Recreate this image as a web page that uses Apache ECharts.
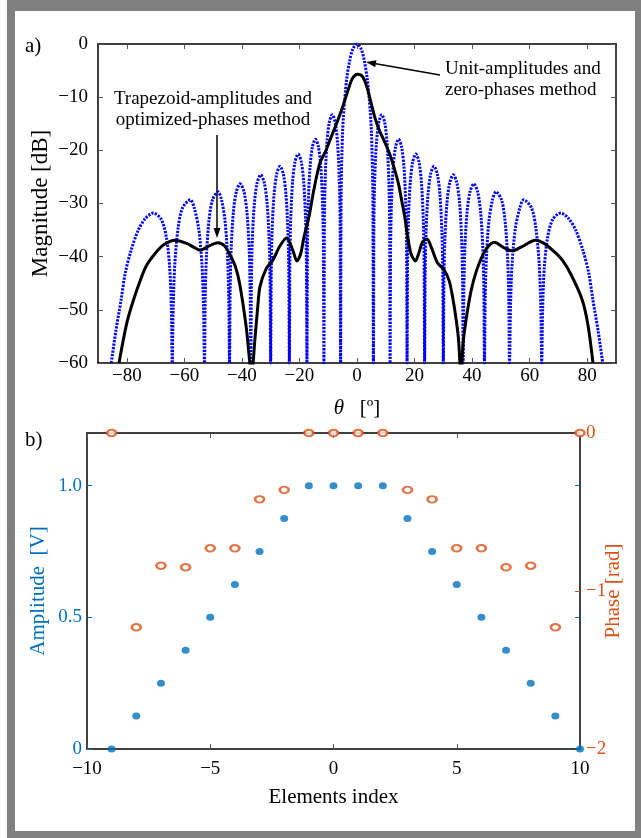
<!DOCTYPE html>
<html><head><meta charset="utf-8">
<script src="https://cdn.jsdelivr.net/npm/echarts@6/dist/echarts.min.js"></script>
<style>html,body{margin:0;padding:0;background:#fff}#c{width:641px;height:838px}</style>
</head><body><div id="c"></div>
<script>
// ---------- data ----------
const thetaTicks = [-80, -60, -40, -20, 0, 20, 40, 60, 80];
const dbTicks = [-60, -50, -40, -30, -20, -10, 0];
// Unit-amplitudes and zero-phases method [theta (deg), magnitude (dB)]
const uniformPattern = [
  [-85.4,-60],[-83.8,-54],[-82,-48.2],[-80.5,-43],[-78.5,-38.8],[-76,-35],[-73.5,-32.8],[-70.8,-31.8],[-68,-33],[-66.2,-36.5],[-65.1,-42],[-64.5,-50],[-64.2,-60],
  [-63.86,-49.3],[-63.3,-41.3],[-62.18,-34.7],[-60.62,-30.8],[-57.9,-29.3],[-56.58,-30.8],[-55.02,-34.7],[-53.9,-41.3],[-53.34,-49.3],[-53.0,-60],
  [-52.74,-47.8],[-52.3,-39.8],[-51.43,-33.2],[-50.22,-29.3],[-48.3,-27.8],[-47.08,-29.3],[-45.87,-33.2],[-45.0,-39.8],[-44.56,-47.8],[-44.3,-60],
  [-44.08,-46.3],[-43.71,-38.3],[-42.97,-31.7],[-41.93,-27.8],[-40.6,-26.3],[-39.27,-27.8],[-38.23,-31.7],[-37.49,-38.3],[-37.12,-46.3],[-36.9,-60],
  [-36.69,-44.6],[-36.35,-36.6],[-35.66,-30],[-34.69,-26.1],[-33.45,-24.6],[-32.21,-26.1],[-31.24,-30],[-30.55,-36.6],[-30.21,-44.6],[-30,-60],
  [-29.8,-43],[-29.48,-35],[-28.83,-28.4],[-27.92,-24.5],[-26.75,-23],[-25.58,-24.5],[-24.67,-28.4],[-24.02,-35],[-23.7,-43],[-23.5,-60],
  [-23.32,-40.7],[-23.01,-32.7],[-22.4,-26.1],[-21.55,-22.2],[-20.45,-20.7],[-19.35,-22.2],[-18.5,-26.1],[-17.89,-32.7],[-17.58,-40.7],[-17.4,-60],
  [-17.22,-37.9],[-16.93,-30],[-16.34,-23.3],[-15.51,-19.4],[-14.45,-17.9],[-13.39,-19.4],[-12.56,-23.3],[-11.97,-30],[-11.68,-37.9],[-11.5,-60],
  [-11.33,-33.3],[-11.04,-25.4],[-10.46,-18.7],[-9.64,-14.8],[-8.6,-13.3],[-7.56,-14.8],[-6.74,-18.7],[-6.16,-25.4],[-5.87,-33.3],[-5.7,-60],
  [-5.5,-28],[-5.0,-16.5],[-4.3,-10.6],[-3.5,-6.3],[-2.6,-3.3],[-1.5,-1.0],[0,0],[1.5,-1.0],[2.6,-3.3],[3.5,-6.3],[4.3,-10.6],[5.0,-16.5],[5.5,-28],
  [5.7,-60],[5.87,-33.3],[6.16,-25.4],[6.74,-18.7],[7.56,-14.8],[8.6,-13.3],[9.64,-14.8],[10.46,-18.7],[11.04,-25.4],[11.33,-33.3],
  [11.5,-60],[11.68,-37.9],[11.97,-30],[12.56,-23.3],[13.39,-19.4],[14.45,-17.9],[15.51,-19.4],[16.34,-23.3],[16.93,-30],[17.22,-37.9],
  [17.4,-60],[17.58,-40.7],[17.89,-32.7],[18.5,-26.1],[19.35,-22.2],[20.45,-20.7],[21.55,-22.2],[22.4,-26.1],[23.01,-32.7],[23.32,-40.7],
  [23.5,-60],[23.7,-43],[24.02,-35],[24.67,-28.4],[25.58,-24.5],[26.75,-23],[27.92,-24.5],[28.83,-28.4],[29.48,-35],[29.8,-43],
  [30,-60],[30.21,-44.6],[30.55,-36.6],[31.24,-30],[32.21,-26.1],[33.45,-24.6],[34.69,-26.1],[35.66,-30],[36.35,-36.6],[36.69,-44.6],
  [36.9,-60],[37.12,-46.3],[37.49,-38.3],[38.23,-31.7],[39.27,-27.8],[40.6,-26.3],[41.93,-27.8],[42.97,-31.7],[43.71,-38.3],[44.08,-46.3],
  [44.3,-60],[44.56,-47.8],[45.0,-39.8],[45.87,-33.2],[47.08,-29.3],[48.3,-27.8],[50.22,-29.3],[51.43,-33.2],[52.3,-39.8],[52.74,-47.8],
  [53.0,-60],[53.34,-49.3],[53.9,-41.3],[55.02,-34.7],[56.58,-30.8],[57.9,-29.3],[60.62,-30.8],[62.18,-34.7],[63.3,-41.3],[63.86,-49.3],
  [64.2,-60],[64.5,-50],[65.1,-42],[66.2,-36.5],[68,-33],[70.8,-31.8],[73.5,-32.8],[76,-35],[78.5,-38.8],[80.5,-43],[82,-48.2],[83.8,-54],[85.4,-60]
];
// Trapezoid-amplitudes and optimized-phases method [theta (deg), magnitude (dB)]
const trapezoidPattern = [
  [-82.7,-60],[-80,-52.5],[-77.7,-48.2],[-75,-44],[-73.1,-41.6],[-70,-39.3],[-67.3,-37.8],[-63.3,-36.9],[-59.2,-37.5],[-56.5,-38.3],[-54.4,-38.8],
  [-51.5,-38.0],[-48.3,-37.4],[-46,-38],[-44.2,-39.6],[-42.3,-41.8],[-40.8,-45.0],[-38.5,-53.2],[-36.6,-62],[-35.5,-55.7],[-34.5,-49.5],[-33.7,-45.6],
  [-31.5,-42.2],[-29.2,-40.6],[-26.9,-38.1],[-24.5,-36.5],[-22.3,-38.8],[-20.9,-40.8],[-19.6,-39.5],[-18.5,-36.5],[-17.6,-34.5],[-16.5,-32],
  [-15.3,-28.3],[-13.0,-22.6],[-10.7,-19.9],[-8.9,-17.4],[-7,-14.8],[-4.9,-11.7],[-3,-8.5],[-1.5,-6.4],[0.3,-5.7],
  [2,-6.2],[3.5,-8.2],[4.9,-11.1],[6.3,-14],[7.8,-16.3],[9.5,-18.3],[11.3,-20.6],[13,-23.5],[14.5,-26.5],[15.3,-28.8],[16.5,-32.2],[17.6,-36.2],
  [18.8,-39.5],[20.3,-40.8],[21.5,-39.3],[22.8,-37.2],[24.3,-36.7],[26,-38.5],[28,-41.2],[30.3,-42.5],[32,-44.5],[33.2,-47.5],[34.5,-52],
  [35.3,-55.7],[36.1,-62],[37,-55.5],[39,-48.2],[40.5,-44.5],[42.5,-41.2],[45,-38.5],[47.7,-37.3],[51,-38.3],[54,-38.9],[57,-38.2],[62.1,-36.9],
  [65,-37.5],[68,-38.8],[71.3,-40.6],[74.5,-43.5],[78.3,-48.2],[80.3,-53],[82,-60]
];
const elementIndex = [-9,-8,-7,-6,-5,-4,-3,-2,-1,0,1,2,3,4,5,6,7,8,9,10];
const amplitudes   = [0,0.125,0.25,0.375,0.5,0.625,0.75,0.875,1,1,1,1,0.875,0.75,0.625,0.5,0.375,0.25,0.125,0];
const phases       = [0,-1.23,-0.84,-0.85,-0.73,-0.73,-0.42,-0.36,0,0,0,0,-0.36,-0.42,-0.73,-0.73,-0.85,-0.84,-1.23,0];
const indexTicks = [-10,-5,0,5,10];

// ---------- chart ----------
const serif = '"Liberation Serif","Times New Roman",serif';
const BLUE = '#0072BD', ORANGE = '#D95319';
const minus = v => (v < 0 ? '\u2212' + Math.abs(v) : String(v));
const chart = echarts.init(document.getElementById('c'), null, {renderer: 'canvas', width: 641, height: 838});

const frameAxis = (extra) => Object.assign({
  axisLine: {show: true, onZero: false, lineStyle: {color: '#000', width: 1.5}},
  axisTick: {show: true, inside: true, length: 5, lineStyle: {color: '#555', width: 1}},
  splitLine: {show: false},
  axisLabel: {show: false},
  nameMoveOverlap: false
}, extra);

const labelStyle = (color, margin) => ({show: true, color: color, fontFamily: serif, fontSize: 19, margin: margin});

function arrow(x1, y1, x2, y2) {
  const dx = x2 - x1, dy = y2 - y1, L = Math.hypot(dx, dy), ux = dx / L, uy = dy / L;
  const hl = 10, hw = 3.5;
  const bx = x2 - ux * hl, by = y2 - uy * hl;
  return [
    {type: 'line', shape: {x1: x1, y1: y1, x2: bx, y2: by}, style: {stroke: '#000', lineWidth: 1.5}},
    {type: 'polygon', shape: {points: [[x2, y2], [bx - uy * hw, by + ux * hw], [bx + uy * hw, by - ux * hw]]}, style: {fill: '#000'}}
  ];
}

const option = {
  backgroundColor: '#808080',
  animation: false,
  grid: [
    {left: 98, top: 44, width: 518, height: 319, outerBoundsMode: 'none', containLabel: false},
    {left: 87, top: 433, width: 493, height: 316, outerBoundsMode: 'none', containLabel: false}
  ],
  xAxis: [
    frameAxis({gridIndex: 0, type: 'value', min: -90, max: 90, position: 'bottom',
      axisTick: {show: true, inside: true, length: 5, customValues: thetaTicks, lineStyle: {color: '#555'}},
      axisLabel: Object.assign(labelStyle('#000', 4), {customValues: thetaTicks, formatter: minus}),
      name: '{i|\u03b8}   [\u00ba]', nameLocation: 'middle', nameGap: 35,
      nameTextStyle: {fontFamily: serif, fontSize: 21, color: '#000', rich: {i: {fontFamily: serif, fontStyle: 'italic', fontSize: 21}}}}),
    frameAxis({gridIndex: 0, type: 'value', min: -90, max: 90, position: 'top',
      axisTick: {show: true, inside: true, length: 5, customValues: thetaTicks, lineStyle: {color: '#555'}}}),
    frameAxis({gridIndex: 1, type: 'value', min: -10, max: 10, interval: 5, position: 'bottom',
      axisLabel: Object.assign(labelStyle('#000', 11), {formatter: minus}),
      name: 'Elements index', nameLocation: 'middle', nameGap: 38,
      nameTextStyle: {fontFamily: serif, fontSize: 21, color: '#000'}}),
    frameAxis({gridIndex: 1, type: 'value', min: -10, max: 10, interval: 5, position: 'top'})
  ],
  yAxis: [
    frameAxis({gridIndex: 0, type: 'value', min: -60, max: 0, interval: 10, position: 'left',
      axisLabel: Object.assign(labelStyle('#000', 10), {formatter: minus}),
      name: 'Magnitude [dB]', nameLocation: 'middle', nameGap: 46, nameRotate: 90,
      nameTextStyle: {fontFamily: serif, fontSize: 23, color: '#000'}}),
    frameAxis({gridIndex: 0, type: 'value', min: -60, max: 0, interval: 10, position: 'right'}),
    frameAxis({gridIndex: 1, type: 'value', min: 0, max: 1.2, interval: 0.5, position: 'left',
      axisTick: {show: true, inside: true, length: 5, lineStyle: {color: BLUE}},
      axisLabel: Object.assign(labelStyle(BLUE, 5), {showMaxLabel: false, formatter: v => (v === 0 ? '0' : v.toFixed(1))}),
      name: 'Amplitude  [V]', nameLocation: 'middle', nameGap: 38, nameRotate: 90,
      nameTextStyle: {fontFamily: serif, fontSize: 21, color: BLUE}}),
    frameAxis({gridIndex: 1, type: 'value', min: -2, max: 0, interval: 1, position: 'right',
      axisTick: {show: true, inside: true, length: 5, lineStyle: {color: ORANGE}},
      axisLabel: Object.assign(labelStyle(ORANGE, 6), {formatter: minus}),
      name: 'Phase [rad]', nameLocation: 'middle', nameGap: 23, nameRotate: 90,
      nameTextStyle: {fontFamily: serif, fontSize: 21, color: ORANGE}}),
    frameAxis({gridIndex: 1, type: 'value', min: 0, max: 1.2, interval: 0.5, position: 'right',
      axisLine: {show: false, onZero: false},
      axisTick: {show: true, inside: true, length: 5, lineStyle: {color: BLUE}}})
  ],
  series: [
    {type: 'line', xAxisIndex: 0, yAxisIndex: 0, data: uniformPattern, showSymbol: false, smooth: 0.3, clip: true,
      lineStyle: {color: '#0000ff', width: 3, type: [2.2, 1.3], cap: 'butt'}, z: 3},
    {type: 'line', xAxisIndex: 0, yAxisIndex: 0, data: trapezoidPattern, showSymbol: false, smooth: 0.3, clip: true,
      lineStyle: {color: '#000', width: 3}, z: 4},
    {type: 'scatter', xAxisIndex: 2, yAxisIndex: 2, data: elementIndex.map((x, i) => [x, amplitudes[i]]),
      symbol: 'circle', symbolSize: [8, 7], itemStyle: {color: BLUE}, clip: false, z: 5},
    {type: 'scatter', xAxisIndex: 2, yAxisIndex: 3, data: elementIndex.map((x, i) => [x, phases[i]]),
      symbol: 'circle', symbolSize: [9, 6.5], itemStyle: {color: '#fff', borderColor: ORANGE, borderWidth: 2.3}, clip: false, z: 5}
  ],
  graphic: [
    {type: 'rect', shape: {x: 0, y: 0, width: 7, height: 838}, style: {fill: '#fff'}, z: -10},
    {type: 'rect', shape: {x: 15, y: 11, width: 620, height: 820}, style: {fill: '#fff'}, z: -10},
    {type: 'text', x: 25, y: 46, style: {text: 'a)', font: '21px ' + serif, fill: '#000', textVerticalAlign: 'middle'}},
    {type: 'text', x: 25, y: 440, style: {text: 'b)', font: '21px ' + serif, fill: '#000', textVerticalAlign: 'middle'}},
    {type: 'text', x: 445, y: 80, style: {text: 'Unit-amplitudes and\nzero-phases method', font: '19px ' + serif, fill: '#000', textVerticalAlign: 'middle', lineHeight: 21}},
    {type: 'text', x: 213, y: 110, style: {text: 'Trapezoid-amplitudes and\noptimized-phases method', font: '19px ' + serif, fill: '#000', textAlign: 'center', textVerticalAlign: 'middle', lineHeight: 21}}
  ].concat(arrow(440, 75, 366, 62)).concat(arrow(217, 135, 217, 238))
};
chart.setOption(option);
</script></body></html>
